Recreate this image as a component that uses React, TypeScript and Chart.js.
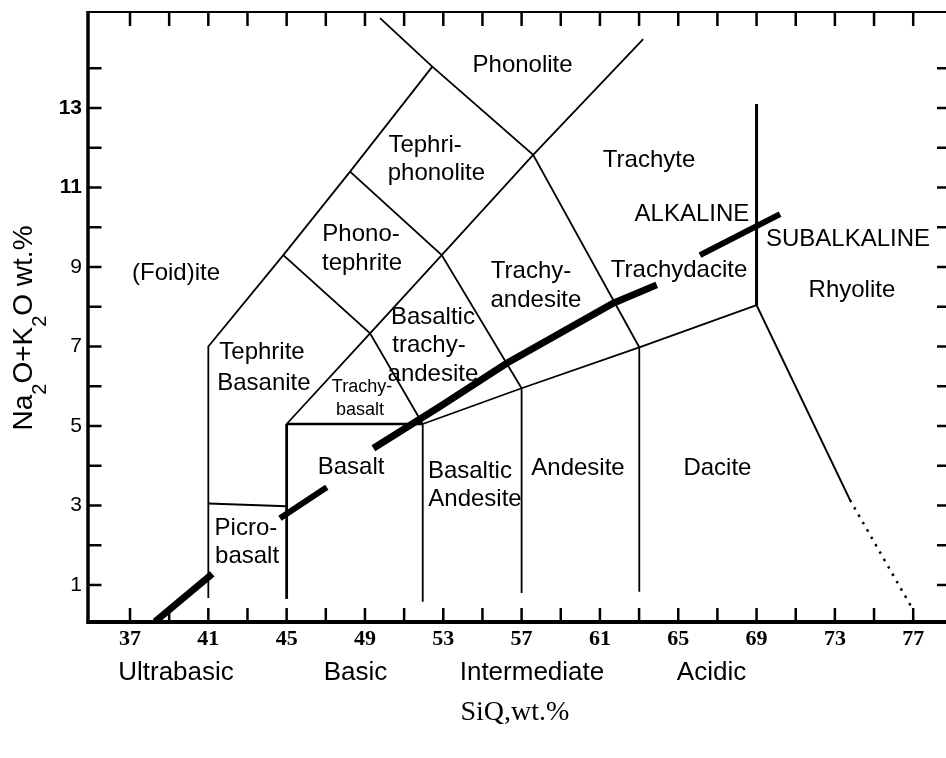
import React, { useEffect, useRef } from 'react';
import { Chart, registerables } from 'chart.js';

Chart.register(...registerables);

type P = [number, number];

// ---- axis ticks ----
const X_TICK_LABELS = [37, 41, 45, 49, 53, 57, 61, 65, 69, 73, 77];
const X_TICK_MARKS = [37, 39, 41, 43, 45, 47, 49, 51, 53, 55, 57, 59, 61, 63, 65, 67, 69, 71, 73, 75, 77];
const Y_TICK_LABELS = [1, 3, 5, 7, 9, 11, 13];
const Y_TICK_MARKS = [1, 2, 3, 4, 5, 6, 7, 8, 9, 10, 11, 12, 13, 14];
const X_MIN = 34.855;
const X_MAX = 78.675;
const Y_MIN = 0.069;
const Y_MAX = 15.415;

// ---- field boundaries (SiO2, Na2O+K2O) ----
const foiditeBoundary: P[] = [[41, 0.67], [41, 7.0], [44.83, 9.3], [48.24, 11.4], [52.44, 14.04]];
const phonoliteBoundary: P[] = [[49.77, 15.26], [52.44, 14.04], [57.59, 11.82], [63.01, 6.98]];
const trachyteBoundary: P[] = [[45, 5.05], [49.26, 7.33], [52.92, 9.3], [57.59, 11.82], [63.21, 14.73]];
const tephriteBoundary: P[] = [[44.83, 9.3], [49.26, 7.33], [51.95, 5.05]];
const phonotephriteBoundary: P[] = [[48.24, 11.4], [52.92, 9.3], [57.0, 5.95], [57.0, 0.8]];
const basaltLeft: P[] = [[45, 0.65], [45, 5.05]];
const basaltTop: P[] = [[45, 5.05], [51.95, 5.05]];
const basaltRight: P[] = [[51.95, 5.05], [51.95, 0.58]];
const picrobasaltTop: P[] = [[41, 3.05], [45, 2.98]];
const subalkalineTop: P[] = [[51.95, 5.05], [57.0, 5.95], [63.01, 6.98], [69.0, 8.04]];
const andesiteDacite: P[] = [[63.01, 6.98], [63.01, 0.83]];
const rhyoliteVertical: P[] = [[69.0, 13.1], [69.0, 8.04]];
const daciteRhyolite: P[] = [[69.0, 8.04], [73.77, 3.14]];
const daciteRhyoliteDotted: P[] = [[73.77, 3.14], [77.0, 0.37]];

// ---- alkaline / subalkaline divide ----
const alkalineLine1: P[] = [[38.28, 0.08], [41.2, 1.28]];
const alkalineLine2: P[] = [[44.66, 2.68], [47.05, 3.46]];
const alkalineLine3: P[] = [[49.43, 4.44], [52.83, 5.49], [56.24, 6.58], [61.68, 8.09], [63.9, 8.55]];
const alkalineLine4: P[] = [[66.11, 9.3], [70.2, 10.33]];

// ---- field names: [text, SiO2, Na2O+K2O] ----
const FIELD_LABELS: [string, number, number][] = [
  ['(Foid)ite', 39.35, 8.85],
  ['Tephrite', 43.74, 6.84],
  ['Basanite', 43.84, 6.08],
  ['Basalt', 48.29, 3.97],
  ['Picro-', 42.92, 2.43],
  ['basalt', 42.98, 1.73],
  ['Basaltic', 52.47, 7.74],
  ['trachy-', 52.27, 7.04],
  ['andesite', 52.47, 6.31],
  ['Basaltic', 54.36, 3.87],
  ['Andesite', 54.62, 3.16],
  ['Andesite', 59.88, 3.94],
  ['Dacite', 67.0, 3.94],
  ['Trachy-', 57.48, 8.9],
  ['andesite', 57.73, 8.17],
  ['Trachydacite', 65.04, 8.92],
  ['Trachyte', 63.51, 11.67],
  ['ALKALINE', 65.7, 10.33],
  ['SUBALKALINE', 73.67, 9.7],
  ['Rhyolite', 73.87, 8.42],
  ['Phono-', 48.8, 9.81],
  ['tephrite', 48.85, 9.1],
  ['Tephri-', 52.07, 12.07],
  ['phonolite', 52.65, 11.36],
  ['Phonolite', 57.05, 14.08],
];
const SMALL_LABELS: [string, number, number][] = [
  ['Trachy-', 48.85, 5.98],
  ['basalt', 48.75, 5.4],
];
const GROUP_LABELS: [string, number][] = [
  ['Ultrabasic', 39.35],
  ['Basic', 48.52],
  ['Intermediate', 57.53],
  ['Acidic', 66.7],
];
const X_TITLE = 'SiQ,wt.%';
const X_TITLE_POS = 56.66;

const toXY = (pts: P[]) => pts.map(([x, y]) => ({ x, y }));

const SANS = '"Liberation Sans", Arial, sans-serif';
const SERIF = '"Liberation Serif", "Times New Roman", serif';

const overlayPlugin = {
  id: 'tasOverlay',
  afterDraw(chart: any) {
    const { ctx, chartArea: ca, scales } = chart;
    const xs = scales.x;
    const ys = scales.y;
    const line = (x1: number, y1: number, x2: number, y2: number) => {
      ctx.beginPath();
      ctx.moveTo(x1, y1);
      ctx.lineTo(x2, y2);
      ctx.stroke();
    };
    ctx.save();
    ctx.strokeStyle = '#000';
    ctx.fillStyle = '#000';
    ctx.lineCap = 'butt';

    // frame
    ctx.lineWidth = 2;
    line(ca.left, ca.top, ca.right, ca.top);
    ctx.lineWidth = 3.5;
    line(ca.left, ca.top - 1, ca.left, ca.bottom + 2);
    ctx.lineWidth = 4;
    line(ca.left - 1.5, ca.bottom, ca.right, ca.bottom);

    // tick marks (inward)
    ctx.lineWidth = 2.5;
    X_TICK_MARKS.forEach((v) => {
      const px = xs.getPixelForValue(v);
      line(px, ca.bottom, px, ca.bottom - 14);
      line(px, ca.top, px, ca.top + 14);
    });
    Y_TICK_MARKS.forEach((v) => {
      const py = ys.getPixelForValue(v);
      line(ca.left, py, ca.left + 13.5, py);
      line(ca.right, py, ca.right - 9, py);
    });

    // field labels
    ctx.textAlign = 'center';
    ctx.textBaseline = 'middle';
    ctx.font = `24px ${SANS}`;
    FIELD_LABELS.forEach(([t, x, y]) => {
      ctx.fillText(t, xs.getPixelForValue(x), ys.getPixelForValue(y));
    });
    ctx.font = `18px ${SANS}`;
    SMALL_LABELS.forEach(([t, x, y]) => {
      ctx.fillText(t, xs.getPixelForValue(x), ys.getPixelForValue(y));
    });

    // SiO2 groups
    ctx.font = `26px ${SANS}`;
    GROUP_LABELS.forEach(([t, x]) => {
      ctx.fillText(t, xs.getPixelForValue(x), ca.bottom + 51);
    });

    // x title
    ctx.font = `28px ${SERIF}`;
    ctx.fillText(X_TITLE, xs.getPixelForValue(X_TITLE_POS), ca.bottom + 91);

    // y title with subscripts
    const parts: [string, boolean][] = [
      ['Na', false], ['2', true], ['O+K', false], ['2', true], ['O wt.%', false],
    ];
    const mainFont = `28px ${SANS}`;
    const subFont = `20px ${SANS}`;
    let total = 0;
    parts.forEach(([t, sub]) => {
      ctx.font = sub ? subFont : mainFont;
      total += ctx.measureText(t).width;
    });
    ctx.translate(32, (ca.top + ca.bottom) / 2 + 11);
    ctx.rotate(-Math.PI / 2);
    ctx.textAlign = 'left';
    ctx.textBaseline = 'alphabetic';
    let cx = -total / 2;
    parts.forEach(([t, sub]) => {
      ctx.font = sub ? subFont : mainFont;
      ctx.fillText(t, cx, sub ? 14 : 0);
      cx += ctx.measureText(t).width;
    });
    ctx.restore();
  },
};

export default function App() {
  const ref = useRef<HTMLCanvasElement | null>(null);

  useEffect(() => {
    if (!ref.current) return;
    const ds = (pts: P[], width: number, dash: number[] = []) => ({
      data: toXY(pts),
      showLine: true,
      borderColor: '#000',
      backgroundColor: '#000',
      borderWidth: width,
      borderDash: dash,
      pointRadius: 0,
      fill: false,
      tension: 0,
    });
    const chart = new Chart(ref.current, {
      type: 'scatter',
      data: {
        datasets: [
          ds(foiditeBoundary, 1.8),
          ds(phonoliteBoundary, 1.8),
          ds(trachyteBoundary, 1.8),
          ds(tephriteBoundary, 1.8),
          ds(phonotephriteBoundary, 1.8),
          ds(basaltLeft, 2.8),
          ds(basaltTop, 2.6),
          ds(basaltRight, 1.8),
          ds(picrobasaltTop, 2),
          ds(subalkalineTop, 1.8),
          ds(andesiteDacite, 1.8),
          ds(rhyoliteVertical, 3),
          ds(daciteRhyolite, 2),
          ds(daciteRhyoliteDotted, 2.5, [2.5, 6]),
          ds(alkalineLine1, 7),
          ds(alkalineLine2, 6),
          ds(alkalineLine3, 7),
          ds(alkalineLine4, 6),
        ],
      },
      options: {
        responsive: false,
        animation: false,
        events: [],
        layout: { padding: { top: 12, left: 0, right: 0, bottom: 0 } },
        plugins: { legend: { display: false }, tooltip: { enabled: false } },
        scales: {
          x: {
            type: 'linear',
            min: X_MIN,
            max: X_MAX,
            afterBuildTicks: (s: any) => {
              s.ticks = X_TICK_LABELS.map((v) => ({ value: v }));
            },
            afterFit: (s: any) => {
              s.height = 136;
              s.paddingLeft = 0;
              s.paddingRight = 0;
            },
            grid: { display: false, drawTicks: false },
            border: { display: false },
            ticks: {
              color: '#000',
              padding: 4,
              maxRotation: 0,
              autoSkip: false,
              font: { family: SERIF, size: 22, weight: 'bold' },
            },
          },
          y: {
            type: 'linear',
            min: Y_MIN,
            max: Y_MAX,
            afterBuildTicks: (s: any) => {
              s.ticks = Y_TICK_LABELS.map((v) => ({ value: v }));
            },
            afterFit: (s: any) => {
              s.width = 88;
              s.paddingTop = 0;
              s.paddingBottom = 0;
            },
            grid: { display: false, drawTicks: false },
            border: { display: false },
            ticks: {
              color: '#000',
              padding: 6,
              autoSkip: false,
              font: (c: any) => ({
                family: SANS,
                size: 21,
                weight: c.tick && c.tick.value >= 11 ? 'bold' : 'normal',
              }),
            },
          },
        },
      } as any,
      plugins: [overlayPlugin],
    });
    return () => chart.destroy();
  }, []);

  return (
    <div style={{ position: 'absolute', left: 0, top: 0, width: 946, height: 758, background: '#fff' }}>
      <canvas ref={ref} width={946} height={758} style={{ display: 'block' }} />
    </div>
  );
}
